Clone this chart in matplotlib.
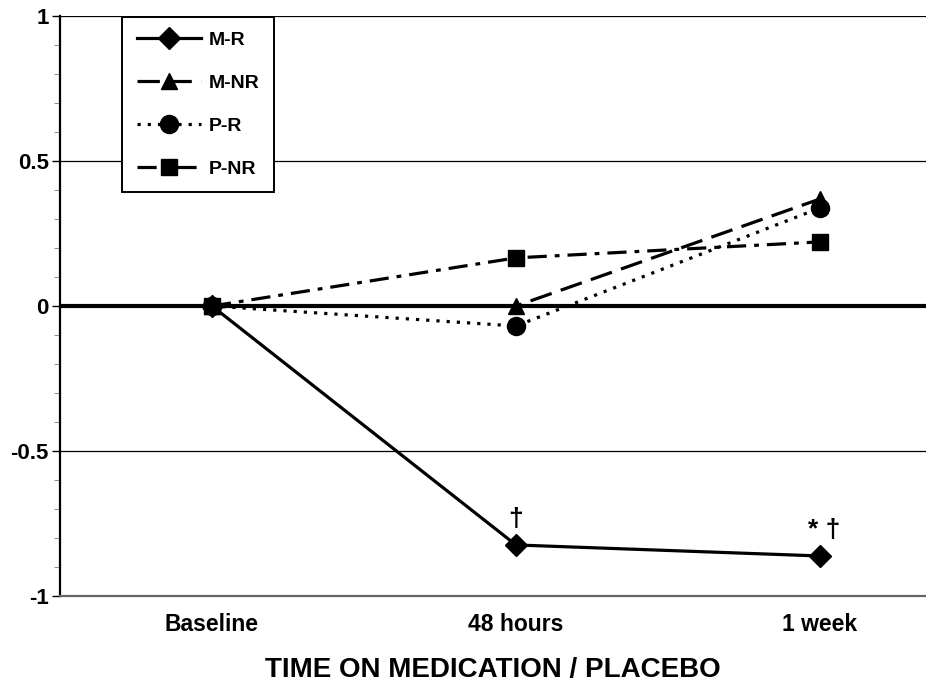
import matplotlib
matplotlib.use("Agg")
import matplotlib.pyplot as plt
from matplotlib.ticker import MultipleLocator

plt.rcParams["font.family"] = ["Liberation Sans", "DejaVu Sans"]
plt.rcParams["font.weight"] = "bold"

# ── data ─────────────────────────────────────────────────────────────────────
times = ["Baseline", "48 hours", "1 week"]
m_r = [0.0, -0.824, -0.862]
m_nr = [0.0, 0.0, 0.369]
p_r = [0.0, -0.069, 0.338]
p_nr = [0.0, 0.166, 0.221]

series = [
    ("M-R", m_r, "-", "D", 11),
    ("M-NR", m_nr, (0, (7, 3)), "^", 12),
    ("P-R", p_r, (0, (1, 2.2)), "o", 13),
    ("P-NR", p_nr, (0, (6, 2.5, 1.5, 2.5)), "s", 12),
]

# ── plot ─────────────────────────────────────────────────────────────────────
fig = plt.figure(figsize=(9.26, 6.86), dpi=100)
ax = fig.add_axes([60 / 926, 1 - 596 / 686, 1 - 60 / 926, 580 / 686])

x = list(range(len(times)))
for y in (1.0, 0.5, -0.5):
    ax.axhline(y, color="black", lw=0.9, zorder=1)
ax.axhline(0, color="black", lw=3.0, zorder=1)

for label, vals, ls, mk, ms in series:
    ax.plot(x, vals, linestyle=ls, marker=mk, markersize=ms, color="black",
            lw=2.3, label=label, zorder=3, clip_on=False)

ax.annotate("†", (x[1], m_r[1]), xytext=(0, 10), textcoords="offset points",
            ha="center", va="bottom", fontsize=19, fontweight="bold")
ax.annotate("* †", (x[2], m_r[2]), xytext=(3, 10), textcoords="offset points",
            ha="center", va="bottom", fontsize=19, fontweight="bold")

ax.set_xlim(-0.5, 2.349)
ax.set_ylim(-1, 1)
ax.set_xticks(x)
ax.set_xticklabels(times, fontsize=16.5, fontweight="bold")
ax.tick_params(axis="x", length=0, pad=12)
ax.yaxis.set_minor_locator(MultipleLocator(0.1))
ax.set_yticks([-1, -0.5, 0, 0.5, 1])
ax.set_yticklabels(["-1", "-0.5", "0", "0.5", "1"], fontsize=16, fontweight="bold")
ax.tick_params(axis="y", which="major", length=6, width=1, direction="out", pad=2)
ax.tick_params(axis="y", which="minor", length=4, width=0.6, color="#777777", direction="out")

ax.spines["top"].set_visible(False)
ax.spines["right"].set_visible(False)
ax.spines["left"].set_linewidth(1.6)
ax.spines["bottom"].set_color("#666666")
ax.spines["bottom"].set_linewidth(1.6)

ax.set_xlabel("TIME ON MEDICATION / PLACEBO", fontsize=20, fontweight="bold", labelpad=15)

leg = ax.legend(loc="upper left", bbox_to_anchor=(61 / 866, 1.0), fontsize=14,
                handlelength=3.3, labelspacing=1.3, borderpad=0.75,
                borderaxespad=0.05, handletextpad=0.4, fancybox=False,
                framealpha=1, edgecolor="black")
leg.get_frame().set_linewidth(1.4)
for t in leg.get_texts():
    t.set_fontweight("bold")

fig.savefig("out.png", dpi=100)
